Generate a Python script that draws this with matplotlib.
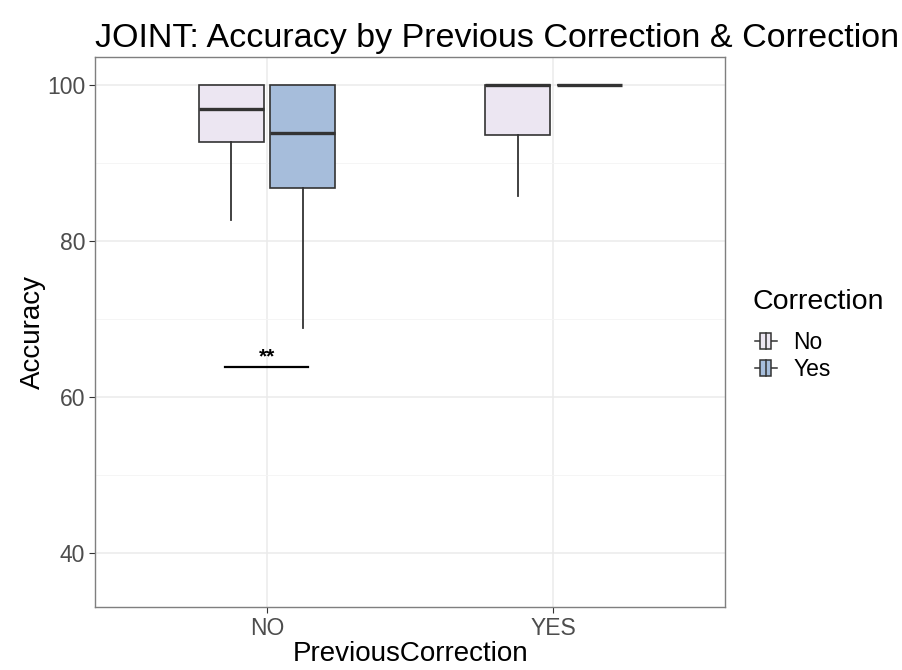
import matplotlib
matplotlib.use("Agg")
import matplotlib.pyplot as plt
from matplotlib.patches import Rectangle
from matplotlib.lines import Line2D
from matplotlib.legend_handler import HandlerBase

plt.rcParams['font.family'] = ['Liberation Sans', 'DejaVu Sans']

# datos
grupos = ["NO", "YES"]
correccion = ["No", "Yes"]
colores = {"No": "#ECE6F2", "Yes": "#A6BDDB"}

# estadisticos por grupo: [q1, mediana, q3, bigote inferior, bigote superior]
stats_no = {"No": [92.65, 96.9, 100.0, 82.7, 100.0],
            "Yes": [86.75, 93.8, 100.0, 68.8, 100.0]}
stats_yes = {"No": [93.6, 100.0, 100.0, 85.8, 100.0],
             "Yes": [100.0, 100.0, 100.0, 100.0, 100.0]}
tabla = {"NO": stats_no, "YES": stats_yes}

signif_y = 63.8
signif_txt = "**"
signif_grupo = "NO"


class HandlerCaja(HandlerBase):
    # dibuja el simbolito de boxplot en la leyenda
    def create_artists(self, legend, orig_handle, xdescent, ydescent,
                       width, height, fontsize, trans):
        cx = width / 2 - xdescent
        cy = height / 2 - ydescent
        wb = width * 0.4
        we = width * 0.4
        h = height * 0.8
        izq = Line2D([cx - we, cx - wb / 2], [cy, cy], color="#333333", lw=1.1, transform=trans)
        der = Line2D([cx + wb / 2, cx + we], [cy, cy], color="#333333", lw=1.1, transform=trans)
        caja = Rectangle((cx - wb / 2, cy - h / 2), wb, h, facecolor=orig_handle.get_facecolor(),
                         edgecolor="#333333", lw=1.1, transform=trans)
        med = Line2D([cx, cx], [cy - h / 2, cy + h / 2], color="#333333", lw=1.1, transform=trans)
        return [izq, der, caja, med]


fig = plt.figure(figsize=(9.03, 6.7), dpi=100)
ax = fig.add_axes([0.1052, 0.094, 0.698, 0.821])

ancho = 0.227
desplaz = 0.125
for i, g in enumerate(grupos):
    for j, c in enumerate(correccion):
        q1, med, q3, lo, hi = tabla[g][c]
        pos = i + 1 + (-desplaz if j == 0 else desplaz)
        st = [dict(q1=q1, med=med, q3=q3, whislo=lo, whishi=hi, fliers=[])]
        ax.bxp(st, positions=[pos], widths=ancho, showcaps=False, patch_artist=True,
               boxprops=dict(facecolor=colores[c], edgecolor="#333333", lw=1.2),
               medianprops=dict(color="#333333", lw=2.4),
               whiskerprops=dict(color="#333333", lw=1.3), zorder=3)

# linea de significancia
p = grupos.index(signif_grupo) + 1
ax.plot([p - 0.145, p + 0.145], [signif_y, signif_y], color="black", lw=1.6, zorder=4)
ax.text(p, signif_y + 0.1, signif_txt, ha="center", va="bottom", fontsize=15,
        fontweight="bold", zorder=4)

ax.set_xlim(0.4, 2.6)
ax.set_ylim(33.1, 103.6)
ax.set_xticks([1, 2])
ax.set_xticklabels(grupos)
ax.set_yticks([40, 60, 80, 100])
ax.set_yticks([50, 70, 90], minor=True)
ax.grid(True, which="major", color="#EBEBEB", lw=1.1, zorder=0)
ax.grid(True, which="minor", axis="y", color="#F4F4F4", lw=0.6, zorder=0)
ax.set_axisbelow(True)
ax.tick_params(axis="both", which="major", labelsize=16.5, labelcolor="#4D4D4D",
               color="#333333", length=4, width=0.8, pad=3)
ax.tick_params(axis="y", which="minor", length=0)
for s in ax.spines.values():
    s.set_color("#7F7F7F")
    s.set_linewidth(1.0)

ax.set_xlabel("PreviousCorrection", fontsize=20, labelpad=1)
ax.set_ylabel("Accuracy", fontsize=20, labelpad=0.5)
ax.set_title("JOINT: Accuracy by Previous Correction & Correction", fontsize=24.5,
             loc="left", pad=7)

handles = [Rectangle((0, 0), 1, 1, facecolor=colores[c]) for c in correccion]
leg = fig.legend(handles, correccion, title="Correction", loc="upper left",
                 bbox_to_anchor=(0.833, 0.568), frameon=False, fontsize=16.5,
                 title_fontsize=20.5, handler_map={Rectangle: HandlerCaja()},
                 handlelength=1.2, handleheight=1.0, handletextpad=0.6,
                 labelspacing=0.18, borderpad=0, borderaxespad=0)
leg._legend_box.align = "left"
leg._legend_box.sep = 11

fig.savefig("out.png", dpi=100)
